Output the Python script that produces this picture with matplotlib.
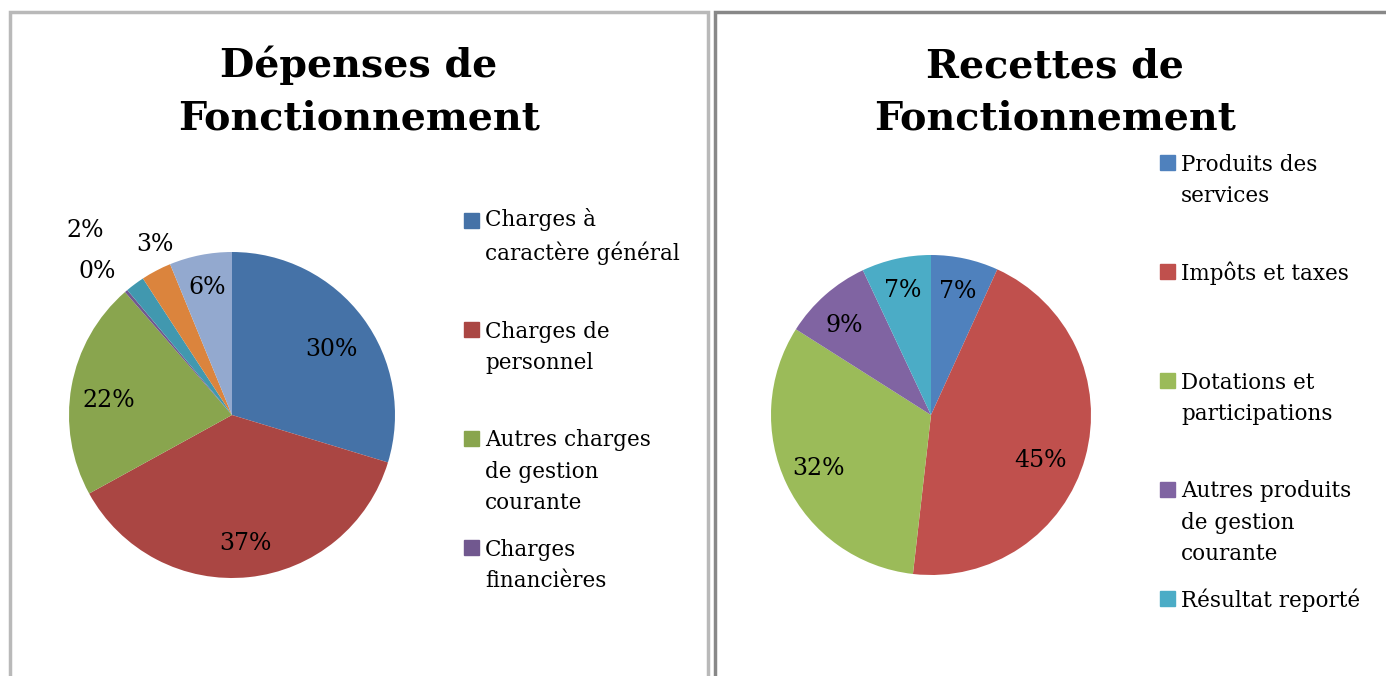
import numpy as np
import matplotlib.pyplot as plt
from matplotlib.patches import Rectangle

# Dépenses (left pie)
dep_labels = ['Charges à\ncaractère général', 'Charges de\npersonnel',
              'Autres charges\nde gestion\ncourante', 'Charges\nfinancières',
              'Charges exceptionnelles', 'Atténuations de produits',
              'Dotations aux amortissements']
dep_values = [29.7, 37.3, 21.6, 0.3, 1.9, 3.0, 6.2]
dep_colors = ['#4572A7', '#AA4643', '#89A54E', '#71588F', '#4198AF', '#DB843D', '#93A9CF']
dep_label_r = [0.73, 0.79, 0.76, 1.21, 1.45, 1.15, 0.8]
dep_label_da = [-3, 0, 3.5, 2.7, 2, -3.5, 0]
dep_legend_n = 4   # the legend box only shows the first four

# Recettes (right pie)
rec_labels = ['Produits des\nservices', 'Impôts et taxes', 'Dotations et\nparticipations',
              'Autres produits\nde gestion\ncourante', 'Résultat reporté']
rec_values = [6.8, 45.0, 32.2, 9.0, 7.0]
rec_colors = ['#4F81BD', '#C0504D', '#9BBB59', '#8064A2', '#4BACC6']
rec_label_r = [0.79, 0.74, 0.78, 0.78, 0.8]
rec_label_da = [0, -7, 0, 2.5, 0]

W, H = 1386, 676
fig = plt.figure(figsize=(W / 100, H / 100), dpi=100)
plt.rcParams['font.family'] = 'DejaVu Serif'


def px(x, y):
        # pixel coords (from top-left) -> figure fraction
        return x / W, 1 - y / H


def draw_pie(cx, cy, r, values, colors, label_r, label_da):
        ax = fig.add_axes([(cx - r) / W, (H - cy - r) / H, 2 * r / W, 2 * r / H])
        wedges, _ = ax.pie(values, colors=colors, startangle=90, counterclock=False,
                           radius=1, wedgeprops=dict(linewidth=0))
        for w, v, d, da in zip(wedges, values, label_r, label_da):
                a = np.deg2rad((w.theta1 + w.theta2) / 2 + da)
                ax.text(d * np.cos(a), d * np.sin(a), '%d%%' % round(v),
                        ha='center', va='center', fontsize=17, clip_on=False)
        ax.set_xlim(-1, 1)
        ax.set_ylim(-1, 1)
        ax.set_aspect('equal')
        ax.axis('off')


def draw_legend(x, y0, step, labels, colors):
        for i, (lab, col) in enumerate(zip(labels, colors)):
                y = y0 + i * step
                fig.patches.append(Rectangle(px(x, y + 15), 15 / W, 15 / H,
                                             transform=fig.transFigure, color=col))
                n = lab.count('\n')
                # va='baseline' anchors the last line
                fig.text(*px(x + 21, y + 16 + n * 31), lab, ha='left', va='baseline',
                         fontsize=15.5, linespacing=1.55)


# panel frames
fig.patches.append(Rectangle(px(10, 700), 698 / W, 688 / H, transform=fig.transFigure,
                             fill=False, edgecolor='#b9b9b9', linewidth=2.5))
fig.patches.append(Rectangle(px(715, 700), 700 / W, 688 / H, transform=fig.transFigure,
                             fill=False, edgecolor='#888888', linewidth=2.5))

# titles
fig.text(*px(359, 130), 'Dépenses de\nFonctionnement', ha='center', va='baseline',
         fontsize=28.5, fontweight='bold', linespacing=1.5)
fig.text(*px(1055, 130), 'Recettes de\nFonctionnement', ha='center', va='baseline',
         fontsize=28.5, fontweight='bold', linespacing=1.5)

draw_pie(232, 415, 163, dep_values, dep_colors, dep_label_r, dep_label_da)
draw_pie(931, 415, 160, rec_values, rec_colors, rec_label_r, rec_label_da)

draw_legend(464, 213, 109, dep_labels[:dep_legend_n], dep_colors[:dep_legend_n])
draw_legend(1160, 155, 109, rec_labels, rec_colors)

fig.savefig('out.png', dpi=100)
